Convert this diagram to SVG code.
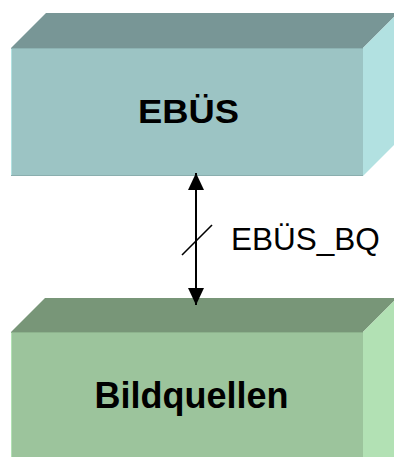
<svg xmlns="http://www.w3.org/2000/svg" width="394" height="457" viewBox="0 0 394 457">
  <style>
    .title { font-family: "Liberation Sans", Arial, sans-serif; font-weight: bold; fill: #000; text-anchor: middle; }
    .label { font-family: "Liberation Sans", Arial, sans-serif; font-size: 31.5px; fill: #000; }
    .wire { stroke: #000; stroke-width: 2; fill: none; }
    .teal .front { fill: #9CC4C4; }
    .teal .top { fill: #789696; }
    .teal .side { fill: #B2E1E1; }
    .green .front { fill: #9CC49C; }
    .green .top { fill: #789678; }
    .green .side { fill: #B2E1B4; }
  </style>
  <defs>
    <marker id="head" viewBox="0 0 17 16" refX="17" refY="8" markerWidth="17" markerHeight="16" markerUnits="userSpaceOnUse" orient="auto-start-reverse">
      <path d="M0,0 L17,8 L0,16 Z" fill="#000"/>
    </marker>
  </defs>

  <rect width="394" height="457" fill="#fff"/>

  <!-- upper block -->
  <g id="ebues" class="teal">
    <polygon class="top" points="11,48 46,13 398,13 363,48"/>
    <polygon class="side" points="363,48 398,13 398,141 363,176"/>
    <rect class="front" x="11" y="48" width="352" height="128"/>
    <line x1="11.5" y1="48" x2="11.5" y2="176" stroke="#B2E1E1" stroke-width="1"/>
    <line x1="11" y1="48.5" x2="363" y2="48.5" stroke="#8DB3B3" stroke-width="1"/>
    <line x1="11" y1="175.5" x2="363" y2="175.5" stroke="#8AAEAE" stroke-width="1"/>
    <text class="title" x="188.5" y="122.5" font-size="33" textLength="101" lengthAdjust="spacingAndGlyphs">EBÜS</text>
  </g>

  <!-- lower block -->
  <g id="bildquellen" class="green">
    <polygon class="top" points="11,332 45,298 397,298 363,332"/>
    <polygon class="side" points="363,332 397,298 397,460 363,460"/>
    <rect class="front" x="11" y="332" width="352" height="128"/>
    <line x1="11.5" y1="332" x2="11.5" y2="460" stroke="#B2E1B4" stroke-width="1"/>
    <line x1="11" y1="332.5" x2="363" y2="332.5" stroke="#8DB38D" stroke-width="1"/>
    <text class="title" x="191.5" y="408" font-size="36">Bildquellen</text>
  </g>

  <!-- bidirectional bus between the blocks -->
  <g id="connectors">
    <line class="wire" x1="196" y1="173" x2="196" y2="305" marker-start="url(#head)" marker-end="url(#head)"/>
    <line x1="182" y1="255" x2="212" y2="225" stroke="#000" stroke-width="1.6"/>
    <text class="label" x="231" y="249.5">EBÜS_BQ</text>
  </g>
</svg>
